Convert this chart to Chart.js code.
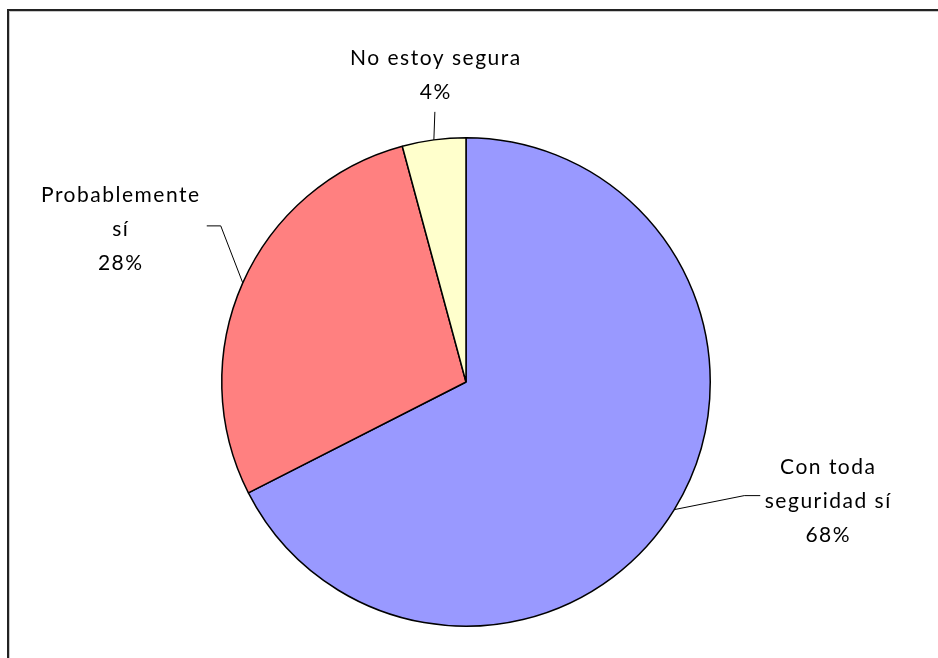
<!DOCTYPE html>
<html>
<head>
<meta charset="utf-8">
<script src="https://cdn.jsdelivr.net/npm/chart.js@4/dist/chart.umd.min.js"></script>
<style>
html,body{margin:0;padding:0;background:#fff;overflow:hidden;}
#wrap{position:relative;width:938px;height:658px;}
</style>
</head>
<body>
<div id="wrap"><canvas id="c" width="938" height="658"></canvas></div>
<script>
const categories = ["Con toda seguridad sí", "Probablemente sí", "No estoy segura"];
const values = [67.5, 28.3, 4.2];
const labelLines = [["Con toda", "seguridad sí"], ["Probablemente", "sí"], ["No estoy segura"]];
const colors = ["#9999FF", "#FF8080", "#FFFFCC"];

// label layout (offsets from the slice's outer mid-point anchor)
const labelLayout = [
  {dx: 154, dy: -8, elbow: [[70, -14], [86, -14]]},
  {dx: -122, dy: -54, elbow: [[-22, -57], [-36, -57]]},
  {dx: 2, dy: -65, elbow: [[1, -28]]}
];

const FONT = '21px Lato';
const LINE_H = 34;

const framePlugin = {
  id: 'frame',
  beforeDraw(chart) {
    const ctx = chart.ctx;
    ctx.save();
    ctx.strokeStyle = '#c8c8c8';
    ctx.lineWidth = 1;
    ctx.strokeRect(9.5, 11.5, 1000, 1000);
    ctx.strokeStyle = '#222';
    ctx.lineWidth = 2;
    ctx.strokeRect(8, 10, 1000, 1000);
    ctx.restore();
  }
};

const labelPlugin = {
  id: 'pieLabels',
  afterDatasetsDraw(chart) {
    const ctx = chart.ctx;
    const meta = chart.getDatasetMeta(0);
    const total = values.reduce((a, b) => a + b, 0);
    ctx.save();
    meta.data.forEach((arc, i) => {
      const {x, y, startAngle, endAngle, outerRadius} = arc.getProps(['x', 'y', 'startAngle', 'endAngle', 'outerRadius'], true);
      const mid = (startAngle + endAngle) / 2;
      const ax = x + Math.cos(mid) * outerRadius;
      const ay = y + Math.sin(mid) * outerRadius;
      const lay = labelLayout[i];
      // leader line
      ctx.strokeStyle = '#000';
      ctx.lineWidth = 1;
      ctx.beginPath();
      ctx.moveTo(ax, ay);
      lay.elbow.forEach(p => ctx.lineTo(ax + p[0], ay + p[1]));
      ctx.stroke();
      // text
      const lines = labelLines[i].concat([Math.round(values[i] / total * 100) + '%']);
      const cx = ax + lay.dx;
      const cy = ay + lay.dy;
      ctx.font = FONT;
      ctx.letterSpacing = '1.5px';
      ctx.fillStyle = '#000';
      ctx.textAlign = 'center';
      ctx.textBaseline = 'middle';
      const n = lines.length;
      lines.forEach((t, k) => {
        ctx.fillText(t, cx, cy + (k - (n - 1) / 2) * LINE_H);
      });
    });
    ctx.restore();
  }
};

new Chart(document.getElementById('c'), {
  type: 'pie',
  data: {
    labels: categories,
    datasets: [{
      data: values,
      backgroundColor: colors,
      borderColor: '#000',
      borderWidth: 1.5
    }]
  },
  options: {
    responsive: false,
    animation: false,
    layout: {padding: {top: 137, bottom: 31, left: 200, right: 206}},
    plugins: {legend: {display: false}, tooltip: {enabled: false}}
  },
  plugins: [framePlugin, labelPlugin]
});
</script>
</body>
</html>
